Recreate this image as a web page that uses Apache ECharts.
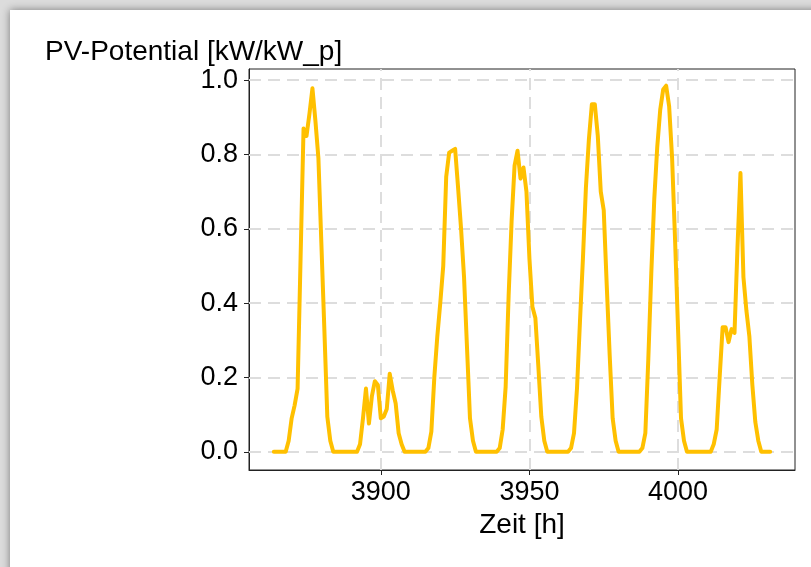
<!DOCTYPE html>
<html><head><meta charset="utf-8">
<script src="https://cdn.jsdelivr.net/npm/echarts@6/dist/echarts.min.js"></script>
<style>html,body{margin:0;padding:0;background:#fff}#c{width:811px;height:567px}</style>
</head><body><div id="c"></div>
<script>
// ---- data ----
const firstHour = 3864;
const pvDay1 = [0,0,0,0,0,0.03,0.09,0.125,0.17,0.52,0.87,0.85,0.91,0.978,0.89,0.79,0.56,0.33,0.094,0.03,0,0,0,0];
const pvDay2 = [0,0,0,0,0,0.02,0.09,0.17,0.076,0.15,0.19,0.18,0.09,0.095,0.115,0.21,0.165,0.13,0.05,0.02,0,0,0,0];
const pvDay3 = [0,0,0,0,0.01,0.054,0.2,0.31,0.40,0.50,0.74,0.805,0.81,0.815,0.71,0.60,0.47,0.28,0.09,0.03,0,0,0,0];
const pvDay4 = [0,0,0,0,0.01,0.06,0.175,0.42,0.62,0.77,0.81,0.735,0.765,0.70,0.52,0.39,0.36,0.23,0.094,0.03,0,0,0,0];
const pvDay5 = [0,0,0,0,0.01,0.05,0.17,0.35,0.52,0.71,0.84,0.935,0.935,0.85,0.70,0.65,0.45,0.26,0.09,0.03,0,0,0,0];
const pvDay6 = [0,0,0,0,0.01,0.05,0.25,0.48,0.68,0.82,0.92,0.975,0.985,0.93,0.79,0.57,0.33,0.09,0.03,0,0,0,0,0];
const pvDay7 = [0,0,0,0,0.02,0.06,0.2,0.335,0.335,0.295,0.33,0.32,0.55,0.75,0.47,0.38,0.31,0.18,0.08,0.03,0,0,0,0];
const xTicks = [3900, 3950, 4000];
const yTicks = [0, 0.2, 0.4, 0.6, 0.8, 1.0];
const yTitle = 'PV-Potential [kW/kW_p]';
const xTitle = 'Zeit [h]';

// ---- chart ----
const pv = [].concat(pvDay1, pvDay2, pvDay3, pvDay4, pvDay5, pvDay6, pvDay7);
const seriesData = pv.map((v, i) => [firstHour + i, v]);
const FONT = '"Liberation Sans", Arial, sans-serif';
const gridStyle = { color: '#dddddd', width: 2, type: [12, 7] };

const chart = echarts.init(document.getElementById('c'), null, { renderer: 'canvas' });
chart.setOption({
  backgroundColor: '#dcdcdc',
  animation: false,
  graphic: [
    { type: 'rect', z: -10, shape: { x: 10, y: 10, width: 820, height: 580 },
      style: { fill: '#ffffff', shadowBlur: 8, shadowColor: 'rgba(0,0,0,0.45)' } },
    { type: 'text', left: 45, top: 38, z: 10,
      style: { text: yTitle, font: '28px ' + FONT, fill: '#000' } }
  ],
  grid: { left: 249, right: 16, top: 69, bottom: 97, show: true, borderColor: '#222', borderWidth: 1, backgroundColor: 'transparent' },
  xAxis: {
    type: 'value', min: 3855.65, max: 4039.35,
    name: xTitle, nameLocation: 'middle', nameGap: 38,
    nameTextStyle: { fontSize: 28, fontFamily: FONT, color: '#000' },
    axisLine: { show: true, onZero: false, lineStyle: { color: '#222', width: 1 } },
    axisTick: { show: true, inside: false, length: 5, customValues: xTicks, lineStyle: { color: '#222', width: 1 } },
    axisLabel: { customValues: xTicks, fontSize: 27, fontFamily: FONT, color: '#000', margin: 9,
      formatter: v => String(v) },
    splitLine: { show: false }
  },
  yAxis: {
    type: 'value', min: -0.049, max: 1.03,
    axisLine: { show: true, onZero: false, lineStyle: { color: '#222', width: 1 } },
    axisTick: { show: true, inside: false, length: 5, customValues: yTicks, lineStyle: { color: '#222', width: 1 } },
    axisLabel: { customValues: yTicks, fontSize: 27, fontFamily: FONT, color: '#000', margin: 11,
      formatter: v => v.toFixed(1) },
    splitLine: { show: false }
  },
  series: [
    { type: 'line', z: 1, data: [], silent: true,
      markLine: { z: 1, silent: true, symbol: 'none', label: { show: false }, lineStyle: gridStyle,
        emphasis: { disabled: true },
        data: xTicks.map(t => ({ xAxis: t })).concat(yTicks.map(t => ({ yAxis: t }))) } },
    { type: 'line', z: 10, data: seriesData, showSymbol: false, symbol: 'none',
      lineStyle: { color: '#FFC000', width: 4, join: 'round', cap: 'round' } }
  ]
});
</script></body></html>
